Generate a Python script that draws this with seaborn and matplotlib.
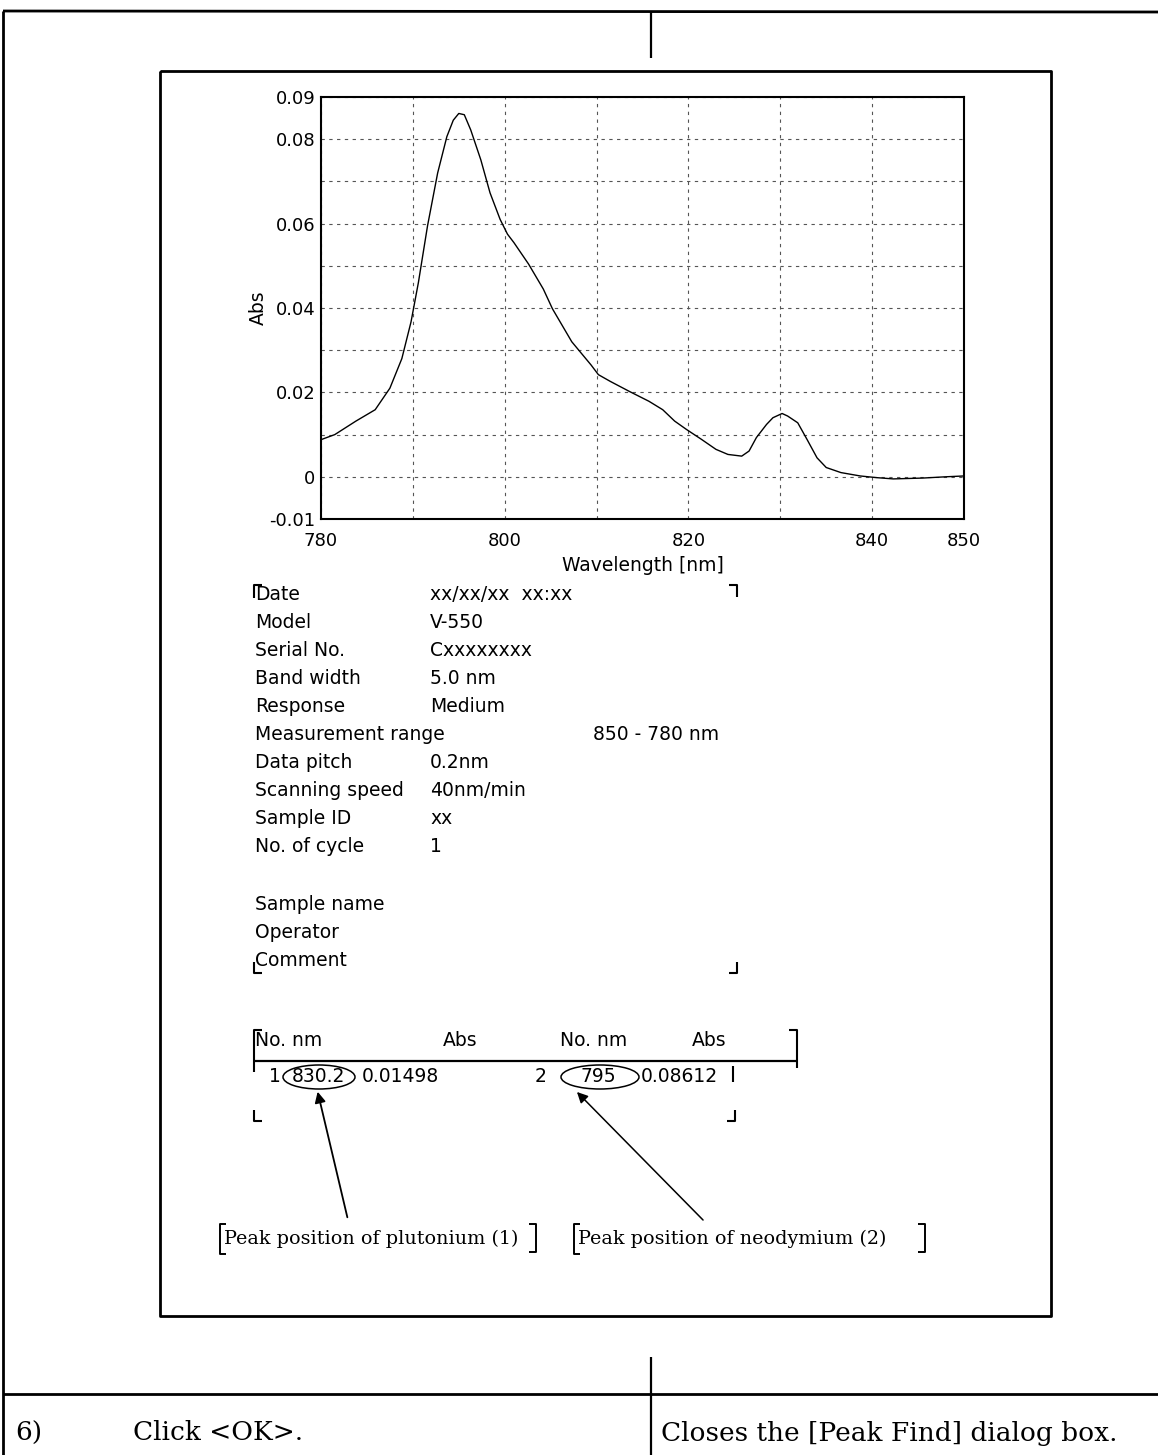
import numpy as np
import pandas as pd
import matplotlib
matplotlib.use("Agg")
import matplotlib.pyplot as plt
import seaborn as sns
from matplotlib.patches import Ellipse
from matplotlib.lines import Line2D

# ---------------- data ----------------
wavelength = [780, 781.5, 783.8, 785.9, 787.5, 788.8, 789.8, 790.6, 791.6, 792.7,
              793.7, 794.4, 795.0, 795.6, 796.3, 797.4, 798.4, 799.5, 800.3, 801.0,
              802.6, 804.2, 805.2, 807.3, 809.4, 810.2, 811.5, 813.6, 815.7, 817.2,
              818.5, 819.8, 821.4, 823.0, 824.3, 825.8, 826.6, 827.4, 828.5, 829.2,
              830.2, 830.8, 831.9, 832.9, 834.0, 835.0, 836.6, 838.7, 840.5, 842.3,
              845.5, 848.0, 850]
absorbance = [0.0088, 0.0100, 0.0132, 0.0159, 0.0210, 0.0280, 0.0367, 0.0460, 0.0595, 0.0720,
              0.0806, 0.0845, 0.0861, 0.0858, 0.0822, 0.0751, 0.0673, 0.0610, 0.0575, 0.0555,
              0.0504, 0.0445, 0.0398, 0.0320, 0.0265, 0.0242, 0.0226, 0.0202, 0.0179, 0.0159,
              0.0132, 0.0112, 0.0089, 0.0065, 0.0053, 0.0049, 0.0061, 0.0093, 0.0124, 0.0140,
              0.0150, 0.0144, 0.0128, 0.0089, 0.0045, 0.0022, 0.0010, 0.0002, -0.0002, -0.0005,
              -0.0003, 0.0000, 0.0002]

x_ticks = [780, 790, 800, 810, 820, 830, 840, 850]
x_tick_labels = ["780", "", "800", "", "820", "", "840", "850"]
y_ticks = [-0.01, 0.0, 0.01, 0.02, 0.03, 0.04, 0.05, 0.06, 0.07, 0.08, 0.09]
y_tick_labels = ["-0.01", "0", "", "0.02", "", "0.04", "", "0.06", "", "0.08", "0.09"]

info_labels = ["Date", "Model", "Serial No.", "Band width", "Response",
               "Measurement range", "Data pitch", "Scanning speed", "Sample ID", "No. of cycle"]
info_values = ["xx/xx/xx  xx:xx", "V-550", "Cxxxxxxxx", "5.0 nm", "Medium",
               "", "0.2nm", "40nm/min", "xx", "1"]
range_value = "850 - 780 nm"
extra_labels = ["Sample name", "Operator", "Comment"]

table_header = ["No. nm", "Abs", "No. nm", "Abs"]
peak_no = ["1", "2"]
peak_nm = ["830.2", "795"]
peak_abs = ["0.01498", "0.08612"]
peak_notes = ["Peak position of plutonium (1)", "Peak position of neodymium (2)"]

step_no = "6)"
step_action = "Click <OK>."
step_result = "Closes the [Peak Find] dialog box."

# ---------------- figure ----------------
sns.set_style("white")
plt.rcParams['font.family'] = ['DejaVu Sans']
plt.rcParams['text.color'] = 'black'
plt.rcParams['axes.labelcolor'] = 'black'
plt.rcParams['xtick.color'] = 'black'
plt.rcParams['ytick.color'] = 'black'

W, H = 1158, 1455
fig = plt.figure(figsize=(W / 100, H / 100), dpi=100)
fig.patch.set_facecolor("white")

# overlay in pixel coordinates
ov = fig.add_axes([0, 0, 1, 1])
ov.set_xlim(0, W)
ov.set_ylim(H, 0)
ov.axis("off")

def line(xs, ys, lw=1.6, color="black"):
    ov.add_line(Line2D(xs, ys, lw=lw, color=color, solid_capstyle="butt"))

# page frame
line([3, W], [11, 12], lw=2.0)
line([3, 3], [11, H], lw=2.0)
line([651, 651], [11, 58], lw=1.6)
line([651, 651], [1357, H], lw=1.6)
line([3, W], [1394, 1394], lw=2.0)
# inner box
line([160, 1051, 1051, 160, 160], [71, 71, 1316, 1316, 71], lw=2.0)

# ---------------- spectrum axes ----------------
ax_l, ax_r, ax_t, ax_b = 321, 964, 97, 519
ax = fig.add_axes([ax_l / W, 1 - ax_b / H, (ax_r - ax_l) / W, (ax_b - ax_t) / H])
df = pd.DataFrame({"Wavelength": wavelength, "Abs": absorbance})
sns.lineplot(data=df, x="Wavelength", y="Abs", ax=ax, color="black", lw=1.0)
ax.set_xlim(780, 850)
ax.set_ylim(-0.01, 0.09)
ax.set_xticks(x_ticks)
ax.set_xticklabels(x_tick_labels)
ax.set_yticks(y_ticks)
ax.set_yticklabels(y_tick_labels)
ax.tick_params(direction="in", length=5, width=1.2, labelsize=13, colors="black")
ax.tick_params(axis="x", pad=9)
ax.tick_params(axis="y", pad=4)
ax.grid(True, linestyle=(0, (3, 4)), color="#555555", lw=0.8)
for s in ax.spines.values():
    s.set_visible(True)
    s.set_color("black")
    s.set_linewidth(1.5)
ax.set_xlabel("Wavelength [nm]", fontsize=13.5, labelpad=5, color="black")
ax.set_ylabel("Abs", fontsize=13.5, labelpad=1, color="black")

# ---------------- info block ----------------
fs = 13.5
for i, (lab, val) in enumerate(zip(info_labels, info_values)):
    y = 595 + i * 28.0
    ov.text(255, y, lab, fontsize=fs, va="center", ha="left")
    if val:
        ov.text(430, y, val, fontsize=fs, va="center", ha="left")
ov.text(593, 595 + 5 * 28.0, range_value, fontsize=fs, va="center", ha="left")
for j, lab in enumerate(extra_labels):
    ov.text(255, 904 + j * 28.0, lab, fontsize=fs, va="center", ha="left")

# corner brackets of info block
line([262, 254, 254], [585, 585, 598], lw=1.5)
line([729, 737, 737], [585, 585, 597], lw=1.5)
line([254, 254, 262], [962, 973, 973], lw=1.5)
line([737, 737, 729], [962, 973, 973], lw=1.5)

# ---------------- peak table ----------------
ov.text(255, 1041, table_header[0], fontsize=fs, va="center", ha="left")
ov.text(443, 1041, table_header[1], fontsize=fs, va="center", ha="left")
ov.text(560, 1041, table_header[2], fontsize=fs, va="center", ha="left")
ov.text(692, 1041, table_header[3], fontsize=fs, va="center", ha="left")
line([262, 254, 254], [1030, 1030, 1072], lw=1.5)
line([254, 797], [1061, 1061], lw=1.6)
line([789, 797, 797], [1030, 1030, 1068], lw=1.5)
line([733, 733], [1066, 1082], lw=1.5)
line([254, 254, 262], [1110, 1121, 1121], lw=1.5)
line([735, 735, 727], [1110, 1121, 1121], lw=1.5)

row_y = 1077
ov.text(281, row_y, peak_no[0], fontsize=fs, va="center", ha="right")
ov.text(318, row_y, peak_nm[0], fontsize=fs, va="center", ha="center")
ov.text(362, row_y, peak_abs[0], fontsize=fs, va="center", ha="left")
ov.text(547, row_y, peak_no[1], fontsize=fs, va="center", ha="right")
ov.text(598, row_y, peak_nm[1], fontsize=fs, va="center", ha="center")
ov.text(641, row_y, peak_abs[1], fontsize=fs, va="center", ha="left")
ov.add_patch(Ellipse((319, 1077), 72, 24, fill=False, lw=1.1, ec="black"))
ov.add_patch(Ellipse((600, 1077), 78, 24, fill=False, lw=1.1, ec="black"))

# arrows
ov.annotate("", xy=(317, 1089), xytext=(348, 1220),
            arrowprops=dict(arrowstyle="-|>", lw=1.3, color="black", mutation_scale=16))
ov.annotate("", xy=(575, 1090), xytext=(705, 1222),
            arrowprops=dict(arrowstyle="-|>", lw=1.1, color="black", mutation_scale=16))

# peak notes (serif)
serif = ["DejaVu Serif"]
ov.text(224, 1239, peak_notes[0], fontsize=13.8, family=serif, va="center", ha="left")
ov.text(578, 1239, peak_notes[1], fontsize=13.8, family=serif, va="center", ha="left")
line([226, 220, 220, 226], [1224, 1224, 1254, 1254], lw=1.4)
line([529, 536, 536, 529], [1224, 1224, 1252, 1252], lw=1.4)
line([580, 574, 574, 580], [1224, 1224, 1254, 1254], lw=1.4)
line([918, 925, 925, 918], [1224, 1224, 1252, 1252], lw=1.4)

# ---------------- bottom row ----------------
ov.text(15, 1433, step_no, fontsize=19, family=serif, va="center", ha="left")
ov.text(133, 1433, step_action, fontsize=19, family=serif, va="center", ha="left")
ov.text(661, 1433, step_result, fontsize=19, family=serif, va="center", ha="left")

fig.savefig("out.png", dpi=100, facecolor="white")
